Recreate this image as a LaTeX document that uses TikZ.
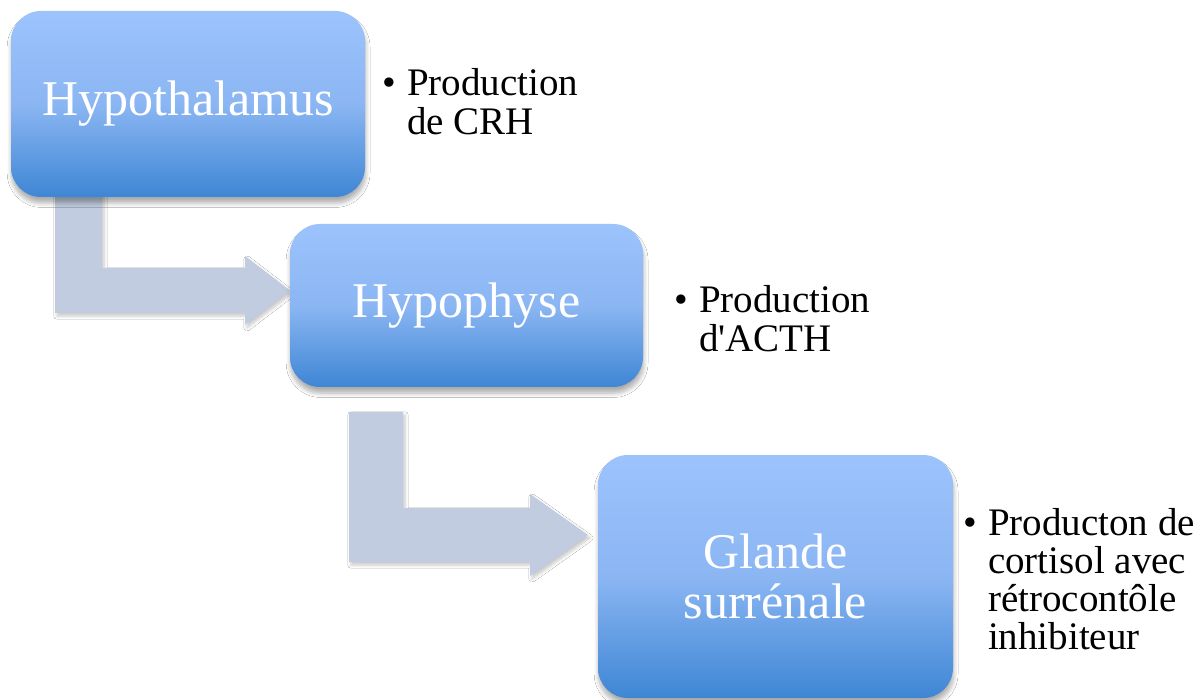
\documentclass[tikz,border=0pt]{standalone}
\usepackage{fontspec}
\setmainfont{Liberation Serif}
\usetikzlibrary{shadows.blur}
\definecolor{boxtop}{HTML}{9CC3FC}
\definecolor{boxmid}{HTML}{8BB6F3}
\definecolor{boxbot}{HTML}{3E86D4}
\definecolor{arrowfill}{HTML}{C1CCE0}
\tikzset{
  gland/.style={rounded corners=15pt, inner sep=0pt, align=center,
    top color=boxtop, bottom color=boxbot, middle color=boxmid,
    text=white, font=\fontsize{25}{25}\selectfont,
    blur shadow={shadow xshift=0.3pt, shadow yshift=-3pt, shadow blur steps=8, shadow opacity=32, shadow blur radius=2.2pt}},
  bentarrow/.style={fill=arrowfill, draw=none,
    blur shadow={shadow xshift=1pt, shadow yshift=-1.5pt, shadow blur steps=6, shadow opacity=22, shadow blur radius=1.6pt}},
  bullettext/.style={anchor=base west, inner sep=0pt, font=\fontsize{19.5}{18.7}\selectfont}
}
\newcommand{\bul}[1]{\begin{tabular}[t]{@{}l@{\hspace{5.5pt}}l@{}}\textbullet & #1\end{tabular}}
\begin{document}
\begin{tikzpicture}[x=0.5pt, y=-0.5pt]
\useasboundingbox (0,0) rectangle (1200,700);
\fill[white] (0,0) rectangle (1200,700);
% bent arrows
\fill[bentarrow] (55,185) -- (102,185) -- (102,268) -- (245,268) -- (245,256) -- (290,290.5)
  -- (245,325) -- (245,313) -- (55,313) -- cycle;
\fill[bentarrow] (349,412) -- (403,412) -- (403,508) -- (530,508) -- (530,494) -- (588,535)
  -- (530,576) -- (530,562) -- (349,562) -- cycle;
% boxes
\node[gland, minimum width=177pt, minimum height=93pt] (hypo) at (188,104) {Hypothalamus};
\node[gland, minimum width=176.5pt, minimum height=81.5pt] (hyph) at (466.5,305.5) {Hypophyse};
\node[gland, minimum width=177.5pt, minimum height=121.5pt] (surr) at (775.5,576.5) {Glande\\surrénale};
% bullet texts
\node[bullettext] (t1) at (382,96) {\bul{Production\\ & de CRH}};
\node[bullettext] (t2) at (674,313) {\bul{Production\\ & d\textquotesingle ACTH}};
\node[bullettext] (t3) at (963,535) {\bul{Producton de\\ & cortisol avec\\ & rétrocontôle\\ & inhibiteur}};
\end{tikzpicture}
\end{document}
